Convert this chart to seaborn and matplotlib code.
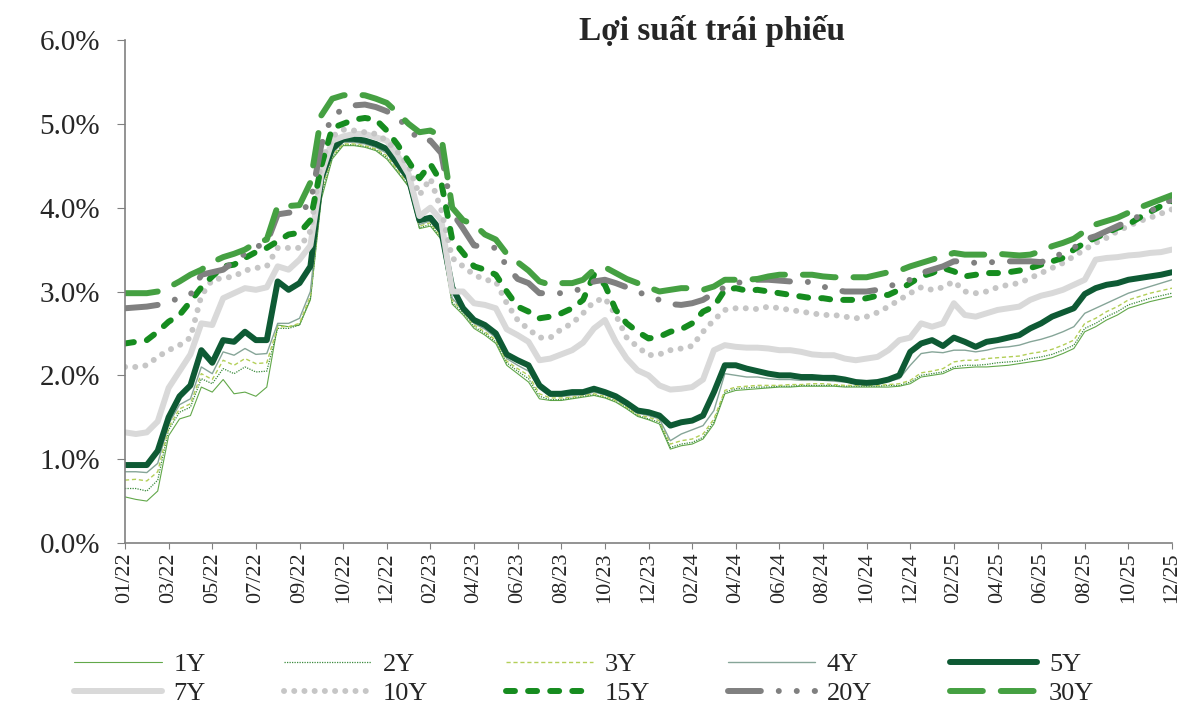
import matplotlib
matplotlib.use("Agg")
import matplotlib.pyplot as plt
from matplotlib.ticker import FuncFormatter, MultipleLocator
import numpy as np
import pandas as pd
import seaborn as sns

tick_labels = ['01/22', '03/22', '05/22', '07/22', '09/22', '10/22', '12/22',
               '02/23', '04/23', '06/23', '08/23', '10/23', '12/23', '02/24',
               '04/24', '06/24', '08/24', '10/24', '12/24', '02/25', '04/25',
               '06/25', '08/25', '10/25', '12/25']

# one sample every quarter of a label interval (97 samples)
pos = np.arange(97) / 4

y1 = [0.55, 0.52, 0.50, 0.62, 1.28, 1.48, 1.52, 1.86,
      1.80, 1.95, 1.78, 1.80, 1.75, 1.86, 2.60, 2.58,
      2.60, 2.90, 4.10, 4.58, 4.74, 4.74, 4.72, 4.68,
      4.58, 4.42, 4.25, 3.75, 3.78, 3.62, 2.85, 2.72,
      2.56, 2.48, 2.38, 2.12, 2.02, 1.92, 1.72, 1.70,
      1.70, 1.72, 1.74, 1.76, 1.73, 1.68, 1.60, 1.51,
      1.47, 1.42, 1.12, 1.16, 1.18, 1.24, 1.42, 1.78,
      1.82, 1.83, 1.84, 1.85, 1.86, 1.86, 1.87, 1.87,
      1.87, 1.87, 1.86, 1.86, 1.86, 1.86, 1.86, 1.87,
      1.90, 1.98, 2.00, 2.02, 2.08, 2.09, 2.10, 2.10,
      2.11, 2.12, 2.14, 2.16, 2.18, 2.21, 2.26, 2.32,
      2.52, 2.58, 2.66, 2.72, 2.80, 2.84, 2.88, 2.91,
      2.94]
y2 = [0.65, 0.65, 0.62, 0.75, 1.35, 1.56, 1.62, 1.96,
      1.90, 2.08, 2.02, 2.10, 2.04, 2.05, 2.56, 2.56,
      2.60, 2.92, 4.15, 4.60, 4.75, 4.75, 4.73, 4.69,
      4.60, 4.43, 4.26, 3.76, 3.80, 3.63, 2.87, 2.74,
      2.58, 2.50, 2.40, 2.15, 2.05, 1.96, 1.75, 1.71,
      1.71, 1.73, 1.75, 1.77, 1.74, 1.69, 1.61, 1.52,
      1.48, 1.44, 1.14, 1.18, 1.20, 1.26, 1.45, 1.80,
      1.84, 1.85, 1.86, 1.86, 1.87, 1.87, 1.88, 1.88,
      1.88, 1.88, 1.87, 1.87, 1.87, 1.87, 1.88, 1.88,
      1.92, 2.00, 2.02, 2.04, 2.10, 2.12, 2.12, 2.13,
      2.15, 2.16, 2.17, 2.20, 2.22, 2.25, 2.30, 2.36,
      2.56, 2.62, 2.70, 2.76, 2.84, 2.88, 2.92, 2.95,
      2.98]
y3 = [0.75, 0.76, 0.74, 0.85, 1.38, 1.60, 1.66, 2.02,
      1.95, 2.18, 2.12, 2.20, 2.14, 2.15, 2.58, 2.58,
      2.62, 2.95, 4.20, 4.62, 4.76, 4.76, 4.74, 4.70,
      4.62, 4.45, 4.28, 3.78, 3.82, 3.65, 2.90, 2.76,
      2.60, 2.52, 2.42, 2.17, 2.08, 2.00, 1.78, 1.73,
      1.73, 1.74, 1.76, 1.78, 1.75, 1.70, 1.62, 1.53,
      1.50, 1.46, 1.18, 1.22, 1.24, 1.30, 1.48, 1.82,
      1.86, 1.87, 1.88, 1.88, 1.88, 1.89, 1.89, 1.90,
      1.90, 1.89, 1.88, 1.88, 1.88, 1.88, 1.89, 1.90,
      1.94, 2.03, 2.05, 2.08, 2.16, 2.18, 2.18, 2.20,
      2.21, 2.22, 2.23, 2.26, 2.28, 2.31, 2.36, 2.42,
      2.62, 2.68, 2.76, 2.82, 2.90, 2.94, 2.98, 3.01,
      3.04]
y4 = [0.85, 0.85, 0.84, 0.95, 1.42, 1.65, 1.72, 2.10,
      2.02, 2.28, 2.24, 2.32, 2.25, 2.26, 2.62, 2.62,
      2.68, 3.00, 4.25, 4.65, 4.78, 4.78, 4.76, 4.72,
      4.65, 4.48, 4.30, 3.80, 3.84, 3.68, 2.92, 2.78,
      2.62, 2.55, 2.45, 2.20, 2.12, 2.05, 1.84, 1.75,
      1.75, 1.76, 1.77, 1.80, 1.77, 1.72, 1.64, 1.55,
      1.52, 1.48, 1.22, 1.30, 1.35, 1.40, 1.58, 2.02,
      2.00, 1.98, 1.98, 1.96, 1.95, 1.95, 1.94, 1.94,
      1.94, 1.93, 1.92, 1.91, 1.90, 1.91, 1.93, 1.96,
      2.12, 2.26, 2.28, 2.27, 2.30, 2.30, 2.28, 2.30,
      2.33, 2.34, 2.36, 2.40, 2.43, 2.47, 2.52, 2.58,
      2.74, 2.80, 2.86, 2.92, 2.98, 3.02, 3.06, 3.10,
      3.14]
y5 = [0.93, 0.93, 0.93, 1.10, 1.50, 1.75, 1.88, 2.30,
      2.15, 2.42, 2.40, 2.52, 2.42, 2.42, 3.12, 3.02,
      3.10, 3.30, 4.35, 4.70, 4.82, 4.82, 4.80, 4.76,
      4.70, 4.52, 4.35, 3.85, 3.88, 3.72, 3.05, 2.80,
      2.66, 2.60, 2.50, 2.25, 2.18, 2.12, 1.88, 1.78,
      1.78, 1.80, 1.80, 1.84, 1.80, 1.75, 1.67, 1.58,
      1.56, 1.52, 1.40, 1.44, 1.46, 1.52, 1.80, 2.12,
      2.12, 2.08, 2.05, 2.02, 2.00, 2.00, 1.98, 1.98,
      1.97, 1.97, 1.95, 1.92, 1.91, 1.92, 1.95, 2.00,
      2.28, 2.38, 2.42, 2.35, 2.45, 2.40, 2.34, 2.40,
      2.42, 2.45, 2.48, 2.56, 2.62, 2.70, 2.75, 2.80,
      2.97, 3.04, 3.08, 3.10, 3.14, 3.16, 3.18, 3.20,
      3.23]
y7 = [1.32, 1.30, 1.32, 1.45, 1.85, 2.05, 2.25, 2.62,
      2.60, 2.92, 2.98, 3.04, 3.02, 3.05, 3.30, 3.26,
      3.38, 3.55, 4.40, 4.80, 4.85, 4.88, 4.88, 4.84,
      4.80, 4.62, 4.40, 3.90, 4.00, 3.85, 3.00, 3.00,
      2.86, 2.84, 2.80, 2.55, 2.48, 2.40, 2.18, 2.20,
      2.25, 2.30, 2.39, 2.56, 2.66, 2.40, 2.20, 2.06,
      2.00, 1.88, 1.83, 1.84, 1.86, 1.95, 2.30, 2.36,
      2.34, 2.33, 2.33, 2.32, 2.30, 2.30, 2.28, 2.25,
      2.24, 2.24, 2.20, 2.18, 2.20, 2.22, 2.30, 2.42,
      2.45, 2.62, 2.58, 2.62, 2.86, 2.72, 2.70, 2.74,
      2.78, 2.80, 2.82, 2.90, 2.95, 2.98, 3.02, 3.08,
      3.14, 3.38, 3.40, 3.41, 3.43, 3.44, 3.46, 3.47,
      3.50]
y10 = [2.10, 2.10, 2.12, 2.22, 2.30, 2.36, 2.45, 2.95,
       3.14, 3.16, 3.18, 3.25, 3.28, 3.30, 3.52, 3.52,
       3.52, 3.72, 4.55, 4.85, 4.93, 4.92, 4.90, 4.88,
       4.80, 4.66, 4.50, 4.15, 4.35, 3.97, 3.40, 3.30,
       3.20, 3.14, 3.12, 2.86, 2.66, 2.55, 2.45, 2.45,
       2.55, 2.62, 2.74, 2.88, 2.92, 2.72, 2.45, 2.34,
       2.24, 2.25, 2.30, 2.32, 2.35, 2.52, 2.66, 2.78,
       2.80, 2.80, 2.79, 2.82, 2.80, 2.78, 2.76, 2.74,
       2.72, 2.72, 2.70, 2.68, 2.70, 2.75, 2.82, 2.90,
       2.98, 3.05, 3.02, 3.05, 3.12, 3.00, 2.98, 3.00,
       3.05, 3.08, 3.10, 3.16, 3.22, 3.28, 3.34, 3.42,
       3.50, 3.58, 3.64, 3.72, 3.78, 3.84, 3.88, 3.93,
       3.98]
y15 = [2.38, 2.40, 2.42, 2.52, 2.64, 2.72, 2.88, 3.05,
       3.18, 3.30, 3.32, 3.40, 3.47, 3.52, 3.60, 3.68,
       3.70, 3.85, 4.50, 4.95, 5.00, 5.05, 5.07, 5.05,
       4.92, 4.75, 4.55, 4.35, 4.52, 4.30, 3.62, 3.46,
       3.30, 3.26, 3.20, 3.00, 2.82, 2.76, 2.68, 2.70,
       2.74, 2.80, 2.90, 3.20, 3.08, 2.78, 2.62, 2.52,
       2.44, 2.46, 2.52, 2.55, 2.62, 2.76, 2.82, 3.02,
       3.04, 3.01, 3.02, 3.00, 2.98, 2.96, 2.94, 2.92,
       2.92, 2.90, 2.90, 2.90, 2.92, 2.95, 2.96, 3.02,
       3.10, 3.18, 3.22, 3.28, 3.24, 3.18, 3.20, 3.22,
       3.22, 3.23, 3.25, 3.28, 3.32, 3.36, 3.40, 3.50,
       3.58, 3.64, 3.70, 3.76, 3.80, 3.88, 3.95, 4.02,
       4.08]
y20 = [2.80, 2.81, 2.82, 2.84, 2.88, 2.92, 2.96, 3.20,
       3.23, 3.26, 3.36, 3.45, 3.53, 3.58, 3.92, 3.94,
       3.95, 4.05, 4.75, 5.10, 5.17, 5.22, 5.23, 5.20,
       5.15, 5.07, 4.95, 4.80, 4.80, 4.65, 3.94, 3.75,
       3.55, 3.53, 3.52, 3.30, 3.15, 3.10, 2.98, 2.98,
       2.98, 3.00, 3.04, 3.12, 3.14, 3.10, 3.05, 3.00,
       2.94, 2.90, 2.85, 2.84, 2.86, 2.90, 2.98, 3.05,
       3.10, 3.12, 3.14, 3.14, 3.13, 3.12, 3.12, 3.11,
       3.06, 3.02, 3.00, 3.00, 3.00, 3.02, 3.06, 3.10,
       3.14, 3.22, 3.26, 3.30, 3.36, 3.36, 3.34, 3.34,
       3.36, 3.36, 3.36, 3.36, 3.35, 3.40, 3.46, 3.52,
       3.62, 3.66, 3.72, 3.78, 3.84, 3.90, 3.96, 4.02,
       4.10]
y30 = [2.98, 2.98, 2.98, 3.00, 3.05, 3.12, 3.20, 3.26,
       3.35, 3.41, 3.45, 3.50, 3.58, 3.62, 4.02, 4.02,
       4.03, 4.30, 5.10, 5.30, 5.34, 5.35, 5.34, 5.30,
       5.25, 5.13, 5.00, 4.90, 4.92, 4.85, 4.00, 3.85,
       3.80, 3.68, 3.62, 3.45, 3.35, 3.25, 3.12, 3.08,
       3.10, 3.10, 3.14, 3.26, 3.29, 3.22, 3.15, 3.10,
       3.05, 3.00, 3.02, 3.04, 3.04, 3.02, 3.06, 3.14,
       3.14, 3.14, 3.15, 3.18, 3.20, 3.20, 3.20, 3.20,
       3.18, 3.17, 3.17, 3.17, 3.17, 3.20, 3.23, 3.25,
       3.30, 3.34, 3.38, 3.42, 3.46, 3.44, 3.44, 3.44,
       3.45, 3.44, 3.43, 3.44, 3.48, 3.54, 3.58, 3.63,
       3.72, 3.80, 3.84, 3.88, 3.94, 4.00, 4.05, 4.10,
       4.15]

names = ['1Y', '2Y', '3Y', '4Y', '5Y', '7Y', '10Y', '15Y', '20Y', '30Y']
df = pd.DataFrame({'pos': pos, '1Y': y1, '2Y': y2, '3Y': y3, '4Y': y4, '5Y': y5,
                   '7Y': y7, '10Y': y10, '15Y': y15, '20Y': y20, '30Y': y30})

# colour, width, dash pattern
look = {
    '1Y': ('#62a84a', 0.8, '-'),
    '2Y': ('#3a8a3c', 0.9, (0, (1, 1))),
    '3Y': ('#b3cf58', 1.0, (0, (3, 2))),
    '4Y': ('#86a598', 1.0, '-'),
    '5Y': ('#0e5a34', 4.3, '-'),
    '7Y': ('#d9d9d9', 4.3, '-'),
    '10Y': ('#c6c6c6', 4.3, (0, (0.01, 1.7))),
    '15Y': ('#168c1f', 4.3, (0, (1.5, 2.2))),
    '20Y': ('#808080', 4.3, (0, (5.5, 3, 0.01, 3, 0.01, 3))),
    '30Y': ('#45a042', 4.3, (0, (5.5, 3))),
}

sns.set_style('white')
plt.rcParams['font.family'] = ['Liberation Serif', 'DejaVu Serif']

fig = plt.figure(figsize=(12, 7.1), dpi=100)
ax = fig.add_axes([125 / 1200, 1 - 543 / 710, 1047 / 1200, 503 / 710])

for name in names:
    color, lw, ls = look[name]
    sns.lineplot(data=df, x='pos', y=name, ax=ax, color=color, linewidth=lw,
                 label=name, legend=False)
    line = ax.lines[-1]
    line.set_linestyle(ls)
    if lw > 2:
        line.set_dash_capstyle('round')
        line.set_solid_capstyle('round')

ax.set_xlim(0, 24)
ax.set_ylim(0, 6)
ax.set_xlabel('')
ax.set_ylabel('')
ax.set_xticks(range(25))
ax.set_xticklabels(tick_labels, rotation=90, fontsize=16)
ax.yaxis.set_major_locator(MultipleLocator(1))
ax.yaxis.set_major_formatter(FuncFormatter(lambda v, p: f'{v:.1f}%'))
ax.tick_params(axis='y', labelsize=21, length=6, color='#808080', direction='out',
               left=True, pad=12)
ax.tick_params(axis='x', length=4, color='#808080', direction='out', bottom=True, pad=3)
for side in ['top', 'right']:
    ax.spines[side].set_visible(False)
for side in ['left', 'bottom']:
    ax.spines[side].set_color('#808080')
    ax.spines[side].set_linewidth(1.2)

fig.text(712 / 1200, 1 - 31 / 710, 'Lợi suất trái phiếu', ha='center', va='center',
         fontsize=24, fontweight='bold')

handles, labels = ax.get_legend_handles_labels()
order = ['1Y', '7Y', '2Y', '10Y', '3Y', '15Y', '4Y', '20Y', '5Y', '30Y']
hmap = dict(zip(labels, handles))
fig.legend([hmap[k] for k in order], order, ncol=5, loc='center',
           bbox_to_anchor=(0.487, 0.044), frameon=False, fontsize=19,
           handlelength=3.3, handletextpad=0.45, columnspacing=2.95,
           labelspacing=0.2, borderpad=0)

fig.savefig('out.png', dpi=100)
